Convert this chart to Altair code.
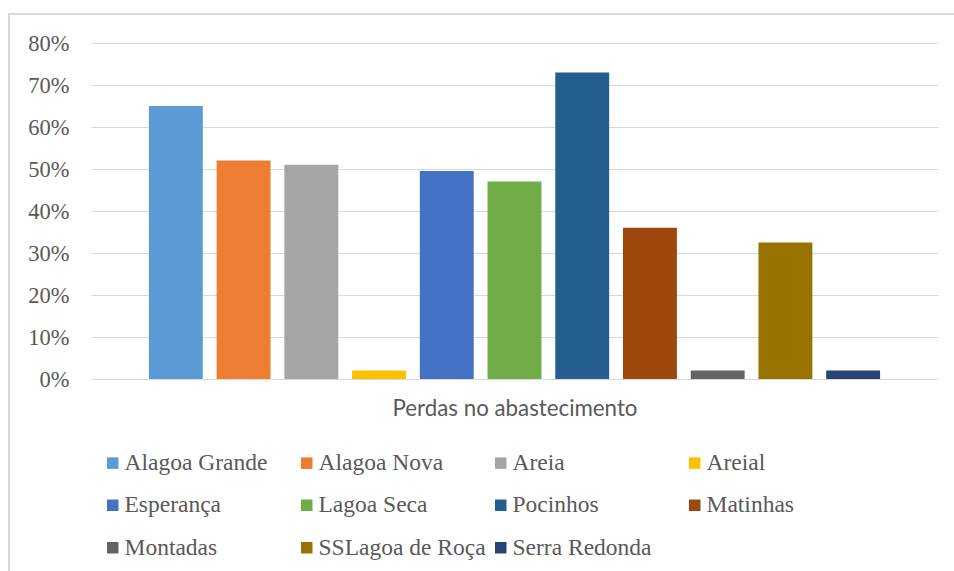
import altair as alt
import pandas as pd

# Municipalities and their share of supply losses
locais = [
    "Alagoa Grande", "Alagoa Nova", "Areia", "Areial", "Esperança",
    "Lagoa Seca", "Pocinhos", "Matinhas", "Montadas", "SSLagoa de Roça",
    "Serra Redonda",
]
perdas = [0.65, 0.52, 0.51, 0.02, 0.495, 0.47, 0.73, 0.36, 0.02, 0.325, 0.02]
cores = [
    "#5B9BD5", "#ED7D31", "#A5A5A5", "#FFC000", "#4472C4",
    "#70AD47", "#255E91", "#9E480E", "#636363", "#997300", "#264478",
]
y_ticks = [0, 0.1, 0.2, 0.3, 0.4, 0.5, 0.6, 0.7, 0.8]

df = pd.DataFrame({"local": locais, "perda": perdas})

W, H = 847, 336
txt = "#595959"
serif = "Liberation Serif, Times New Roman, serif"

bars = alt.Chart(df).mark_bar().encode(
    x=alt.X(
        "local:N",
        sort=locais,
        scale=alt.Scale(paddingInner=0.204, paddingOuter=0.855),
        axis=alt.Axis(
            title="Perdas no abastecimento",
            labels=False, ticks=False, domain=False, grid=False,
            titleFont="Lato", titleFontSize=22.3, titleFontWeight="normal",
            titleColor=txt, titlePadding=18,
        ),
    ),
    y=alt.Y(
        "perda:Q",
        scale=alt.Scale(domain=[0, 0.8], nice=False),
        axis=alt.Axis(
            title=None, values=y_ticks, format=".0%",
            ticks=False, domain=False,
            labelFont=serif, labelFontSize=22.5, labelColor=txt,
            labelPadding=22, gridColor="#d9d9d9", gridWidth=1.2,
        ),
    ),
    color=alt.Color(
        "local:N",
        sort=locais,
        scale=alt.Scale(domain=locais, range=cores),
        legend=alt.Legend(
            title=None, orient="none", legendX=10, legendY=408, padding=0,
            columns=4, gridAlign="all", direction="horizontal",
            symbolType="square", symbolSize=132, symbolStrokeWidth=0,
            labelFont=serif, labelFontSize=23.5, labelColor=txt,
            labelOffset=0, columnPadding=3, rowPadding=17.5, labelLimit=300,
        ),
    ),
)

# light frame along the top and left edges of the chart
frame = alt.Chart(df).mark_rect(
    fill=None, stroke="#d9d9d9", strokeWidth=1.5
).encode(
    x=alt.value(-82), x2=alt.value(1000),
    y=alt.value(-29), y2=alt.value(600),
)

chart = alt.layer(frame, bars).properties(
    width=W, height=H,
    autosize=alt.AutoSizeParams(type="none"),
    padding={"left": 91, "top": 43, "right": 16, "bottom": 192},
    background="white",
).configure_view(strokeWidth=0, stroke="transparent")

chart.save("out.html", embed_options={"renderer": "svg", "actions": False})
